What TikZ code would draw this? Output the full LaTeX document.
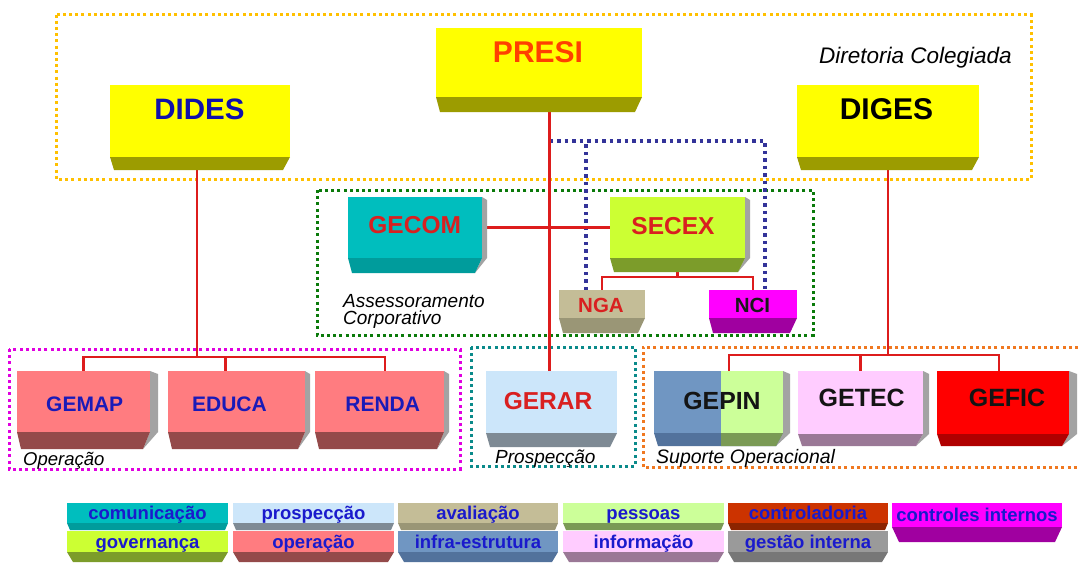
\documentclass[tikz,border=0pt]{standalone}
\usepackage{fontspec}
\setmainfont{Liberation Sans}
\pgfdeclarelayer{bg}
\pgfsetlayers{bg,main}
\definecolor{yel}{HTML}{FFFF00}
\definecolor{yelB}{HTML}{9C9C00}
\definecolor{presiT}{HTML}{FF4000}
\definecolor{didesT}{HTML}{1010AA}
\definecolor{tealF}{HTML}{00BEBE}
\definecolor{tealB}{HTML}{009C9C}
\definecolor{limeF}{HTML}{CCFF33}
\definecolor{limeB}{HTML}{7C9C2A}
\definecolor{khakiF}{HTML}{C4BD97}
\definecolor{khakiB}{HTML}{9A9676}
\definecolor{magF}{HTML}{FF00FF}
\definecolor{magB}{HTML}{A000A0}
\definecolor{salF}{HTML}{FF7C80}
\definecolor{salB}{HTML}{944A4A}
\definecolor{skyF}{HTML}{CCE6FA}
\definecolor{skyB}{HTML}{7E8A94}
\definecolor{steelF}{HTML}{7096C2}
\definecolor{steelB}{HTML}{52729C}
\definecolor{mintF}{HTML}{CCFF99}
\definecolor{mintB}{HTML}{7A9A55}
\definecolor{pinkF}{HTML}{FFCCFF}
\definecolor{pinkB}{HTML}{9A7896}
\definecolor{redF}{HTML}{FF0000}
\definecolor{redB}{HTML}{B00000}
\definecolor{rustF}{HTML}{CC3300}
\definecolor{rustB}{HTML}{8C2400}
\definecolor{greyF}{HTML}{9A9A9A}
\definecolor{greyB}{HTML}{777777}
\definecolor{sidegray}{HTML}{A3A3A3}
\definecolor{redline}{HTML}{DD1C1C}
\definecolor{labred}{HTML}{D92020}
\definecolor{labblue}{HTML}{1A1AB8}
\definecolor{legblue}{HTML}{1A1ACC}
\definecolor{dirc}{HTML}{FFC000}
\definecolor{assc}{HTML}{0A7A0A}
\definecolor{ncic}{HTML}{333399}
\definecolor{opc}{HTML}{E000E0}
\definecolor{prc}{HTML}{0A8A8A}
\definecolor{suc}{HTML}{F07820}
% bevel box: name, x1, y1, x2, y2 (front bottom), y3 (bevel bottom), front, bevel, side width
\newcommand{\bvbox}[9]{%
  \ifdim #9pt>0pt
    \fill[sidegray] (#4,#3) -- ({#4+#9},{#3+3}) -- ({#4+#9},#5) -- ({#4-7},#6) -- (#4,#5) -- cycle;
  \fi
  \fill[#8] (#2,#5) -- (#4,#5) -- ({#4-7},#6) -- ({#2+4},#6) -- cycle;
  \node[fill=#7, anchor=north west, inner sep=0pt, outer sep=0pt,
        minimum width={#4-#2}, minimum height={#5-#3}] (#1) at (#2,#3) {};%
}
% legend box: name, x1, y1, x2, y2, y3, front, bevel, inset
\newcommand{\lgbox}[9]{%
  \fill[#8] (#2,#5) -- (#4,#5) -- ({#4-#9},#6) -- ({#2+#9},#6) -- cycle;
  \node[fill=#7, anchor=north west, inner sep=0pt, outer sep=0pt,
        minimum width={#4-#2}, minimum height={#5-#3}] (#1) at (#2,#3) {};%
}
\begin{document}
\begin{tikzpicture}[x=1pt,y=-1pt,
  conn/.style={draw=redline, line width=2.8pt},
  dotframe/.style={line width=3pt, dash pattern=on 3pt off 3.2pt},
  bluedot/.style={draw=ncic, line width=3.2pt, dash pattern=on 3.5pt off 4pt},
  boxtxt/.style={inner sep=0pt, font=\bfseries\fontsize{#1}{#1}\selectfont},
  grplabel/.style={inner sep=0pt, anchor=base west, font=\itshape\fontsize{#1}{#1}\selectfont},
  legtxt/.style={inner sep=0pt, anchor=base, text=legblue, font=\bfseries\fontsize{18.5}{18.5}\selectfont}]
\useasboundingbox (0,0) rectangle (1078,562);

% ---- boxes
\bvbox{dides}{110}{85}{290}{157}{170}{yel}{yelB}{0}
\bvbox{presi}{436}{28}{642}{97}{112}{yel}{yelB}{0}
\bvbox{diges}{797}{85}{979}{157}{170}{yel}{yelB}{0}
\bvbox{gecom}{348}{197}{482}{258}{273}{tealF}{tealB}{5}
\bvbox{secex}{610}{197}{745}{258}{272}{limeF}{limeB}{5}
\bvbox{nga}{559}{290}{645}{318}{333}{khakiF}{khakiB}{0}
\bvbox{nci}{709}{290}{797}{318}{333}{magF}{magB}{0}
\bvbox{gemap}{17}{371}{150}{432}{449}{salF}{salB}{8}
\bvbox{educa}{168}{371}{305}{432}{449}{salF}{salB}{5}
\bvbox{renda}{315}{371}{444}{432}{449}{salF}{salB}{5}
\bvbox{gerar}{486}{371}{617}{433}{447}{skyF}{skyB}{0}
\bvbox{gepin}{654}{371}{783}{433}{446}{steelF}{steelB}{7}
\fill[mintB] (721,433) -- (783,433) -- (776,446) -- (721,446) -- cycle;
\node[fill=mintF, anchor=north west, inner sep=0pt, outer sep=0pt, minimum width=62, minimum height=62] (gepinR) at (721,371) {};
\bvbox{getec}{798}{371}{923}{434}{446}{pinkF}{pinkB}{6}
\bvbox{gefic}{937}{371}{1069}{434}{446}{redF}{redB}{8}

% ---- box texts
\node[boxtxt=29.5, text=didesT] (t-dides) at (199.5,109) {DIDES};
\node[boxtxt=30, text=presiT] (t-presi) at (538,52) {PRESI};
\node[boxtxt=30, text=black] (t-diges) at (886.5,109) {DIGES};
\node[boxtxt=24.5, text=labred] (t-gecom) at (414.7,225) {GECOM};
\node[boxtxt=24.5, text=labred] (t-secex) at (673,226) {SECEX};
\node[boxtxt=20.5, text=labred] (t-nga) at (601,305.5) {NGA};
\node[boxtxt=20.5, text=black!90] (t-nci) at (752.5,305.5) {NCI};
\node[boxtxt=21, text=labblue] (t-gemap) at (84.7,404) {GEMAP};
\node[boxtxt=21, text=labblue] (t-educa) at (229.5,404) {EDUCA};
\node[boxtxt=21, text=labblue] (t-renda) at (382.7,404) {RENDA};
\node[boxtxt=24.5, text=labred] (t-gerar) at (548,401) {GERAR};
\node[boxtxt=24.8, text=black!92] (t-gepin) at (722,401) {GEPIN};
\node[boxtxt=25, text=black!92] (t-getec) at (861.7,398) {GETEC};
\node[boxtxt=25, text=black!92] (t-gefic) at (1007,398) {GEFIC};

% ---- group labels
\node[grplabel=22.5] (lab-dir) at (819,63) {Diretoria Colegiada};
\node[grplabel=19] (lab-ass1) at (343,307) {Assessoramento};
\node[grplabel=19] (lab-ass2) at (343,324) {Corporativo};
\node[grplabel=18.5] (lab-op) at (23,465) {Operação};
\node[grplabel=19] (lab-pr) at (495,463) {Prospecção};
\node[grplabel=19.5] (lab-su) at (656,463) {Suporte Operacional};

% ---- legend
\lgbox{l1}{67}{503}{228}{523}{530}{tealF}{tealB}{3}
\lgbox{l2}{233}{503}{394}{523}{530}{skyF}{skyB}{3}
\lgbox{l3}{398}{503}{558}{523}{530}{khakiF}{khakiB}{3}
\lgbox{l4}{563}{503}{724}{523}{530}{mintF}{mintB}{3}
\lgbox{l5}{728}{503}{888}{523}{530}{rustF}{rustB}{3}
\lgbox{l6}{67}{531}{228}{552}{562}{limeF}{limeB}{6}
\lgbox{l7}{233}{531}{394}{552}{562}{salF}{salB}{6}
\lgbox{l8}{398}{531}{558}{552}{562}{steelF}{steelB}{6}
\lgbox{l9}{563}{531}{724}{552}{562}{pinkF}{pinkB}{6}
\lgbox{l10}{728}{531}{888}{552}{562}{greyF}{greyB}{6}
\lgbox{l11}{892}{503}{1062}{527}{542}{magF}{magB}{7}
\node[legtxt] (tl1) at (147.5,519.5) {comunicação};
\node[legtxt] (tl2) at (313.5,519.5) {prospecção};
\node[legtxt] (tl3) at (478,519.5) {avaliação};
\node[legtxt] (tl4) at (643.5,519.5) {pessoas};
\node[legtxt] (tl5) at (808,519.5) {controladoria};
\node[legtxt] (tl6) at (147.5,548) {governança};
\node[legtxt] (tl7) at (313.5,548) {operação};
\node[legtxt] (tl8) at (478,548) {infra-estrutura};
\node[legtxt] (tl9) at (643.5,548) {informação};
\node[legtxt] (tl10) at (808,548) {gestão interna};
\node[legtxt] (tl11) at (977,521.5) {controles internos};

% ---- background layer: frames and connectors
\begin{pgfonlayer}{bg}
\fill[white] (0,0) rectangle (1078,562);
\draw[dotframe, draw=dirc] (56,14.5) rectangle (1031,179);
\draw[dotframe, draw=assc] (317,190) rectangle (813,335);
\draw[dotframe, draw=opc] (9,349) rectangle (460,469);
\draw[dotframe, draw=prc] (471,347) rectangle (635,466);
\draw[dotframe, draw=suc] (1078,347) -- (643,347) -- (643,467) -- (1078,467);

\coordinate (gr) at ([xshift=-2pt]gerar.north);
\coordinate (bl) at (gr |- 0,141);
\coordinate (ncb) at ([xshift=12pt]nci.north);
\coordinate (ngb) at ([xshift=-16pt]nga.north);
\draw[bluedot] (bl) -| (ncb);
\draw[bluedot] (ngb) -- (ngb |- bl);

\coordinate (opbar) at (0,357);
\coordinate (rd) at ([xshift=5.5pt]renda.north);
\coordinate (ed) at ([xshift=-11pt]educa.north);
\coordinate (dd) at ([xshift=-3pt]dides.south);
\draw[conn] (dd) -- (dd |- opbar);
\draw[conn] (gemap.north) |- (opbar -| rd) -- (rd);
\draw[conn] (ed) -- (ed |- opbar);

\draw[conn] (gr) -- (gr |- presi.south);
\draw[conn] (gecom.east) -- (secex.west);

\coordinate (sb) at (0,277);
\draw[conn] (secex.south) -- (secex.south |- sb);
\draw[conn] (nga.north) |- (sb -| nci.north) -- (nci.north);

\coordinate (db) at (0,355);
\coordinate (gp) at ([xshift=10.5pt]gepin.north);
\coordinate (gf) at ([xshift=-4pt]gefic.north);
\draw[conn] (diges.south) -- (diges.south |- db);
\draw[conn] (gp) |- (db -| gf) -- (gf);
\draw[conn] (getec.north) -- (getec.north |- db);
\end{pgfonlayer}
\end{tikzpicture}
\end{document}
